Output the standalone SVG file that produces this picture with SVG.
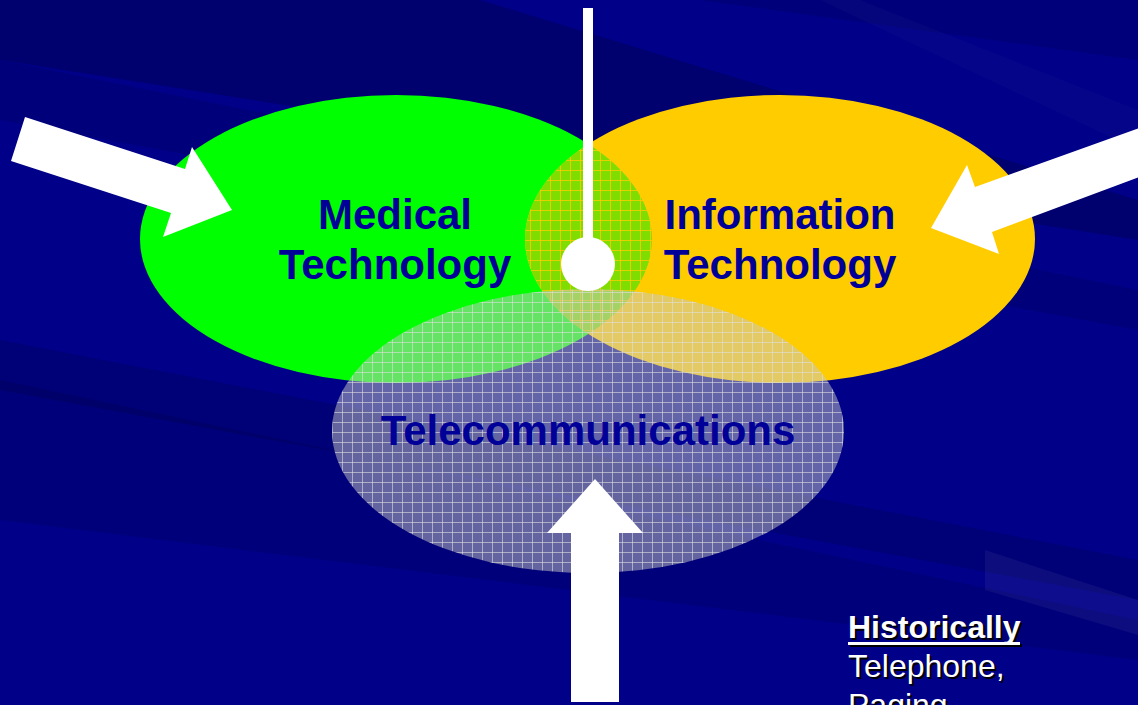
<svg xmlns="http://www.w3.org/2000/svg" width="1138" height="705" viewBox="0 0 1138 705">
<style>
.lbl{font-family:"Liberation Sans",Arial,sans-serif;font-weight:bold;font-size:42px;fill:#000099;text-anchor:middle}
.note{font-family:"Liberation Sans",Arial,sans-serif;font-size:32px;fill:#ffffff}
.sh{fill:#000000}
.arrow{fill:#ffffff}
</style>
<defs>
<pattern id="lensGrid" width="10" height="10" patternUnits="userSpaceOnUse">
<rect width="10" height="10" fill="#80dd00"/>
<path d="M0 0.5H10M0.5 0V10" stroke="#ffcc00" stroke-width="1" stroke-opacity="0.8" fill="none"/>
</pattern>
<pattern id="telGrid" width="10" height="10" patternUnits="userSpaceOnUse" x="2" y="2">
<rect width="10" height="10" fill="#c8c8c8" fill-opacity="0.5"/>
<path d="M0 0.5H10M0.5 0V10" stroke="#e0e0e0" stroke-width="1" stroke-opacity="0.6" fill="none"/>
</pattern>
<clipPath id="greenClip"><ellipse cx="396" cy="239" rx="256" ry="144"/></clipPath>
</defs>

<g id="background">
<rect width="1138" height="705" fill="#000088"/>
<polygon points="0,0 480,0 1138,200 1138,240 0,60" fill="#000000" fill-opacity="0.18"/>
<polygon points="0,60 1138,290 1138,330 0,120" fill="#000000" fill-opacity="0.1"/>
<polygon points="0,340 1138,560 1138,600 0,390" fill="#000000" fill-opacity="0.12"/>
<polygon points="0,380 1138,620 1138,660 0,520" fill="#000000" fill-opacity="0.1"/>
<polygon points="700,0 1138,0 1138,60" fill="#000000" fill-opacity="0.1"/>
<polygon points="860,0 1138,110 1138,150 820,0" fill="#ffffff" fill-opacity="0.02"/>
<polygon points="985,550 1138,600 1138,635 985,590" fill="#ffffff" fill-opacity="0.05"/>
</g>

<g id="node-medical">
<ellipse cx="396" cy="239" rx="256" ry="144" fill="#00ff00"/>
</g>
<g id="node-information">
<ellipse cx="780" cy="239" rx="255" ry="144" fill="#ffcc00"/>
</g>
<g id="overlap-lens">
<ellipse cx="780" cy="239" rx="255" ry="144" fill="url(#lensGrid)" clip-path="url(#greenClip)"/>
</g>
<g id="node-telecom">
<ellipse cx="588" cy="431" rx="256" ry="142" fill="url(#telGrid)"/>
</g>

<g id="labels">
<text class="lbl" x="395" y="229">Medical</text>
<text class="lbl" x="395" y="279">Technology</text>
<text class="lbl" x="780" y="229">Information</text>
<text class="lbl" x="780" y="279">Technology</text>
<text class="lbl" x="588" y="445">Telecommunications</text>
</g>

<g id="connectors">
<polygon class="arrow" points="25,117 185,169 192,147 232,210 163,237 171,213 11,161"/>
<polygon class="arrow" points="1142,127 975,187 967,165 931,228 999,254 992,232 1142,176"/>
<polygon class="arrow" points="571,702 571,533 547,533 595,479 643,533 619,533 619,702"/>
<rect x="583" y="8" width="10" height="250" fill="#ffffff"/>
<circle cx="588" cy="264" r="27" fill="#ffffff"/>
</g>

<g id="note">
<text class="note sh" x="850" y="640" font-weight="bold">Historically</text>
<rect class="sh" x="850" y="644" width="172" height="3"/>
<text class="note" x="848" y="638" font-weight="bold">Historically</text>
<rect x="848" y="642" width="172" height="3" fill="#ffffff"/>
<text class="note sh" x="850" y="679">Telephone,</text>
<text class="note" x="848" y="677">Telephone,</text>
<text class="note sh" x="850" y="718">Paging</text>
<text class="note" x="848" y="716">Paging</text>
</g>
</svg>
